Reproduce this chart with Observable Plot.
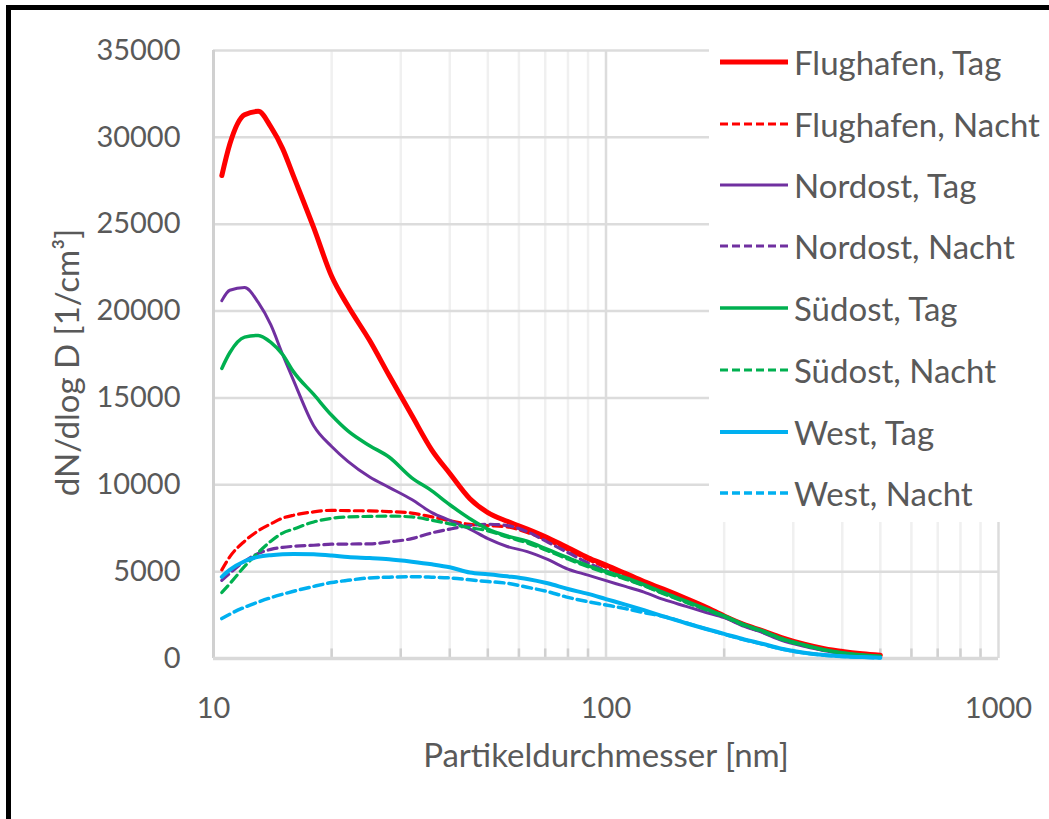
<!DOCTYPE html>
<html><head><meta charset="utf-8">
<script src="https://cdn.jsdelivr.net/npm/d3@7"></script>
<script src="https://cdn.jsdelivr.net/npm/@observablehq/plot@0.6"></script>
<style>
html,body{margin:0;padding:0;background:#fff;}
#wrap{position:relative;width:1049px;height:819px;overflow:hidden;font-family:Lato, "Open Sans", sans-serif;}
#frame{position:absolute;left:6px;top:5px;width:2000px;height:2000px;border-left:5px solid #000;border-top:5px solid #000;pointer-events:none;box-sizing:border-box;}
#legend{position:absolute;left:709px;top:28px;width:340px;height:494px;background:#fff;}
.item{position:absolute;left:11px;height:40px;display:flex;align-items:center;color:#595959;font-size:33px;white-space:nowrap;}
.item svg{margin-right:6px;}
</style></head>
<body><div id="wrap"><div id="chart"></div><div id="legend"></div><div id="frame"></div></div>
<script>
const diameters = [10.5,11,12,13,14,15,16,18,20,22,25,28,32,36,40,45,50,56,63,71,80,90,100,112,125,140,160,180,200,225,250,280,320,360,400,450,500];
const flughafenTag   = [27800,29600,31300,31500,30600,29350,27750,24800,22000,20300,18300,16300,14000,12000,10650,9200,8400,7900,7450,6950,6380,5800,5380,4900,4430,3990,3450,2950,2450,1950,1600,1200,820,560,400,270,190];
const flughafenNacht = [5100,5850,6750,7350,7750,8080,8250,8440,8530,8510,8500,8460,8370,8150,7930,7720,7650,7580,7250,6800,6250,5700,5250,4780,4330,3880,3350,2900,2450,1970,1600,1190,800,530,360,240,170];
const nordostTag     = [20600,21200,21350,20500,19200,17500,16000,13400,12200,11350,10450,9850,9150,8400,7950,7450,6900,6450,6150,5700,5150,4800,4480,4150,3820,3400,3000,2650,2350,1850,1500,1050,700,450,300,180,120];
const nordostNacht   = [4500,4900,5600,6050,6280,6400,6460,6520,6580,6590,6600,6710,6900,7230,7450,7650,7730,7650,7300,6700,6100,5500,5050,4600,4200,3750,3250,2800,2400,1900,1520,1100,740,470,300,180,110];
const suedostTag     = [16700,17600,18500,18600,18200,17500,16500,15200,14000,13100,12250,11600,10400,9650,8850,8050,7450,7050,6750,6280,5800,5350,5000,4650,4250,3800,3300,2850,2450,1950,1600,1150,780,500,330,200,130];
const suedostNacht   = [3800,4300,5300,6100,6750,7220,7450,7860,8070,8150,8180,8200,8150,7960,7750,7530,7350,7000,6650,6200,5720,5280,4920,4570,4180,3730,3230,2800,2400,1900,1550,1100,750,480,310,190,120];
const westTag        = [4700,5100,5600,5850,5950,6000,6020,6000,5930,5840,5780,5710,5570,5420,5250,4950,4850,4730,4580,4330,4000,3720,3420,3100,2780,2430,2030,1700,1420,1100,850,560,330,200,130,80,50];
const westNacht      = [2300,2550,2950,3250,3500,3700,3870,4150,4370,4500,4640,4680,4710,4680,4640,4530,4430,4330,4100,3850,3520,3270,3080,2870,2640,2420,2050,1700,1400,1080,830,550,320,190,120,70,40];

const seriesNames = ["Flughafen, Tag","Flughafen, Nacht","Nordost, Tag","Nordost, Nacht","Südost, Tag","Südost, Nacht","West, Tag","West, Nacht"];
const seriesValues = [flughafenTag,flughafenNacht,nordostTag,nordostNacht,suedostTag,suedostNacht,westTag,westNacht];
const seriesColors = ["#ff0000","#ff0000","#7030a0","#7030a0","#00b050","#00b050","#00b0f0","#00b0f0"];
const seriesDashed = [false,true,false,true,false,true,false,true];
const seriesWidths = [5,3.2,3,3.2,3.5,3.2,4,3.5];

const yTicks = [0,5000,10000,15000,20000,25000,30000,35000];
const xTicks = [10,100,1000];
const xMinor = [20,30,40,50,60,70,80,90,200,300,400,500,600,700,800,900];
const xTitle = "Partikeldurchmesser [nm]";
const yTitle = "dN/dlog D [1/cm³]";

const lineMarks = seriesNames.map((name,i) => {
  const rows = diameters.map((d,j) => ({d, v: seriesValues[i][j], s: name}));
  return Plot.line(rows, {x:"d", y:"v", stroke: seriesColors[i], strokeWidth: seriesWidths[i],
    strokeDasharray: seriesDashed[i] ? "9,5" : null, curve:"monotone-x"});
});

const chart = Plot.plot({
  width: 1049, height: 819,
  marginLeft: 213, marginRight: 51, marginTop: 50, marginBottom: 161,
  style: {fontFamily: "Lato, 'Open Sans', sans-serif", fontSize: "29px", color: "#595959", background: "transparent"},
  x: {type:"log", domain:[10,1000]},
  y: {domain:[0,35000]},
  marks: [
    Plot.ruleX(xMinor, {stroke:"#f0f0f0", strokeWidth:2.5}),
    Plot.ruleX([100,1000], {stroke:"#dcdcdc", strokeWidth:2.5}),
    Plot.ruleY(yTicks.filter(t => t > 0), {stroke:"#dcdcdc", strokeWidth:2.5}),
    Plot.ruleX(xMinor, {y1:0, y2:550, stroke:"#d0d0d0", strokeWidth:2.5}),
    Plot.ruleX([10], {stroke:"#d0d0d0", strokeWidth:3}),
    Plot.ruleY([0], {stroke:"#d9d9d9", strokeWidth:3.5}),
    Plot.axisX({ticks: xTicks, tickFormat: d => String(d), tickSize: 0, tickPadding: 39, label: null}),
    Plot.axisY({ticks: yTicks, tickFormat: d => String(d), tickSize: 0, tickPadding: 33, label: null}),
    Plot.text([xTitle], {frameAnchor: "bottom", dy: 108, fontSize: 33, fill: "#595959"}),
    Plot.text([yTitle], {frameAnchor: "left", textAnchor: "middle", rotate: -90, dx: -145, dy: 8, fontSize: 33, fill: "#595959"}),
    ...lineMarks
  ]
});
document.getElementById("chart").appendChild(chart);

const legend = document.getElementById("legend");
const legendCenters = [34,96,157,218,280,342,404,465];
seriesNames.forEach((name,i) => {
  const item = document.createElement("div");
  item.className = "item";
  item.style.top = (legendCenters[i] - 20) + "px";
  const dash = seriesDashed[i] ? 'stroke-dasharray="8,4"' : '';
  item.innerHTML = `<svg width="68" height="10"><line x1="0" y1="5" x2="68" y2="5" stroke="${seriesColors[i]}" stroke-width="${seriesWidths[i]}" ${dash}/></svg><span>${name}</span>`;
  legend.appendChild(item);
});
</script></body></html>
